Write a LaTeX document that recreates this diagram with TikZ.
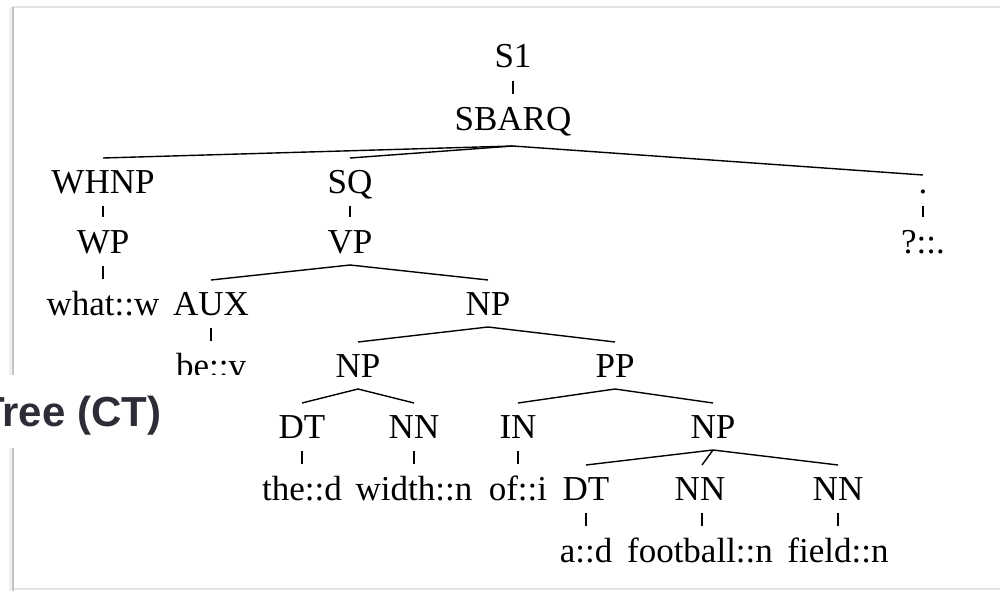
\documentclass[tikz,border=0pt]{standalone}
\usepackage{fontspec}
\setmainfont{Liberation Serif}
\newfontfamily\headfont{Liberation Sans}
\definecolor{headgray}{HTML}{2D2D37}
\definecolor{framegray}{HTML}{C4C4C4}
\definecolor{framelight}{HTML}{E4E4E4}
\begin{document}
\begin{tikzpicture}[x=1pt,y=-1pt,
  lab/.style={anchor=base, inner sep=0pt, outer ysep=12pt, text height=23pt, text depth=0pt,
    font=\fontsize{35}{40}\selectfont},
  br/.style={line width=1.4pt},
  tk/.style={line width=1.3pt, shorten <=1pt, shorten >=1pt}]
\useasboundingbox (0,0) rectangle (1000,591);
\clip (0,0) rectangle (1000,591);
% frame
\draw[framelight, line width=1.5pt] (13,7) -- (1000,7);
\draw[framelight, line width=1.5pt] (13,589) -- (1000,589);
\draw[gray!12, line width=3pt] (10,7) -- (10,591);
\draw[framegray, line width=2pt] (13,7) -- (13,591);
% nodes
\node[lab] (s1) at (513,68) {S1};
\node[lab] (sbarq) at (513,130) {SBARQ};
\node[lab] (whnp) at (103,193) {WHNP};
\node[lab] (sq) at (350,193) {SQ};
\node[lab, text height=6pt] (dot) at (923,193) {.};
\node[lab] (wp) at (103,253) {WP};
\node[lab] (vp) at (350,253) {VP};
\node[lab] (qm) at (923,253) {?::.};
\node[lab] (what) at (103,315) {what::w};
\node[lab] (aux) at (211,315) {AUX};
\node[lab] (np1) at (488,315) {NP};
\node[lab] (be) at (211,377) {be::v};
\node[lab] (np2) at (358,377) {NP};
\node[lab] (pp) at (615,377) {PP};
\node[lab] (dt1) at (302,438) {DT};
\node[lab] (nn1) at (414,438) {NN};
\node[lab] (inn) at (518,438) {IN};
\node[lab] (np3) at (713,438) {NP};
\node[lab] (the) at (302,500) {the::d};
\node[lab] (width) at (414,500) {width::n};
\node[lab] (of) at (518,500) {of::i};
\node[lab] (dt2) at (586,500) {DT};
\node[lab] (nn2) at (700,500) {NN};
\node[lab] (nn3) at (838,500) {NN};
\node[lab] (a) at (586,562) {a::d};
\node[lab] (foot) at (700,562) {football::n};
\node[lab] (field) at (838,562) {field::n};
% connectors
\draw[tk] (s1.south) -- (sbarq.north);
\draw[br] ([yshift=-4pt]sbarq.south) -- (whnp.north);
\draw[br] ([yshift=-4pt]sbarq.south) -- (sq.north);
\draw[br] ([yshift=-4pt]sbarq.south) -- (dot.north);
\draw[tk] (whnp.south) -- (wp.north);
\draw[tk] (sq.south) -- (vp.north);
\draw[tk] (dot.south) -- (qm.north);
\draw[tk] (wp.south) -- (what.north);
\draw[br] (vp.south) -- (aux.north);
\draw[br] (vp.south) -- (np1.north);
\draw[tk] (aux.south) -- (be.north);
\draw[br] (np1.south) -- (np2.north);
\draw[br] (np1.south) -- (pp.north);
\draw[br] (np2.south) -- (dt1.north);
\draw[br] (np2.south) -- (nn1.north);
\draw[br] (pp.south) -- (inn.north);
\draw[br] (pp.south) -- (np3.north);
\draw[tk] (dt1.south) -- (the.north);
\draw[tk] (nn1.south) -- (width.north);
\draw[tk] (inn.south) -- (of.north);
\draw[br] (np3.south) -- (dt2.north);
\draw[br] (np3.south) -- ([xshift=2pt]nn2.north);
\draw[br] (np3.south) -- (nn3.north);
\draw[tk] (dt2.south) -- (a.north);
\draw[tk] ([xshift=2pt]nn2.south) -- ([xshift=2pt]foot.north);
\draw[tk] (nn3.south) -- (field.north);
% overlay label
\fill[white] (0,375) rectangle (265,448);
\node[anchor=base west, inner sep=0pt, text=headgray,
  font=\headfont\bfseries\fontsize{42}{46}\selectfont] (ct) at (-21,426) {Tree (CT)};
\end{tikzpicture}
\end{document}
